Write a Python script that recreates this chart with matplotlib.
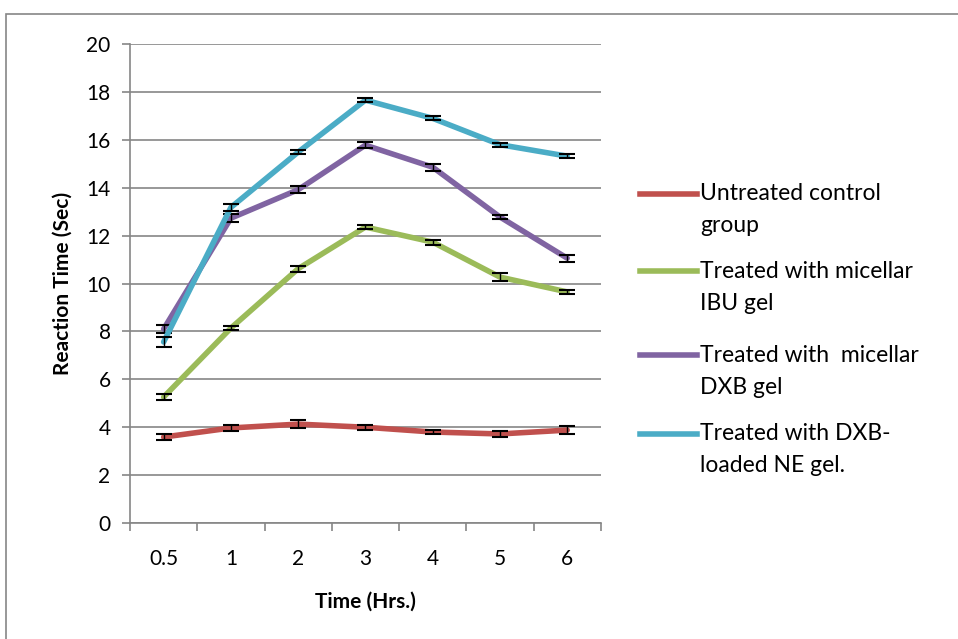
import matplotlib.pyplot as plt
from matplotlib.patches import Rectangle
from matplotlib.lines import Line2D

plt.rcParams['font.family'] = ['Lato', 'DejaVu Sans']

time_labels = ['0.5', '1', '2', '3', '4', '5', '6']

control = [3.59, 3.97, 4.13, 4.00, 3.80, 3.72, 3.88]
control_err = [0.12, 0.12, 0.18, 0.10, 0.08, 0.12, 0.18]

ibu_gel = [5.26, 8.14, 10.62, 12.36, 11.73, 10.27, 9.65]
ibu_err = [0.12, 0.10, 0.12, 0.10, 0.10, 0.15, 0.10]

dxb_gel = [8.10, 12.73, 13.92, 15.78, 14.86, 12.78, 11.06]
dxb_err = [0.18, 0.18, 0.15, 0.12, 0.15, 0.10, 0.15]

ne_gel = [7.56, 13.18, 15.49, 17.66, 16.90, 15.80, 15.32]
ne_err = [0.20, 0.15, 0.10, 0.08, 0.08, 0.08, 0.08]

series = [
    ('Untreated control\ngroup', control, control_err, '#C0504D'),
    ('Treated with micellar\nIBU gel', ibu_gel, ibu_err, '#9BBB59'),
    ('Treated with  micellar\nDXB gel', dxb_gel, dxb_err, '#8064A2'),
    ('Treated with DXB-\nloaded NE gel.', ne_gel, ne_err, '#4BACC6'),
]

W, H = 958, 639
fig = plt.figure(figsize=(W / 100, H / 100), dpi=100)
ax = fig.add_axes([0.1357, 0.1815, 0.4915, 0.7495])

# outer chart frame
fig.patches.append(Rectangle((0.006, -0.05), 1.2, 1.028, transform=fig.transFigure,
                             fill=False, edgecolor='#868686', linewidth=1.2))

x = list(range(len(time_labels)))
for label, vals, err, color in series:
    ax.plot(x, vals, color=color, linewidth=4, solid_capstyle='round')
    ax.errorbar(x, vals, yerr=err, fmt='none', ecolor='black', elinewidth=1.0,
                capsize=6, capthick=1.5)

ax.set_xlim(-0.5, len(time_labels) - 0.5)
ax.set_ylim(0, 20)
ax.set_yticks(range(0, 21, 2))
ax.set_xticks(x)
ax.set_xticklabels(time_labels)
ax.set_xticks([i - 0.5 for i in range(len(time_labels) + 1)], minor=True)
ax.tick_params(axis='x', which='major', length=0, pad=19, labelsize=15)
ax.tick_params(axis='x', which='minor', length=6, color='#868686', width=1.2)
ax.tick_params(axis='y', length=6, color='#868686', width=1.2, pad=8, labelsize=15)

ax.grid(axis='y', color='#868686', linewidth=1.2)
ax.set_axisbelow(True)
for side in ['top', 'right']:
    ax.spines[side].set_visible(False)
for side in ['left', 'bottom']:
    ax.spines[side].set_color('#868686')
    ax.spines[side].set_linewidth(1.2)

ax.set_xlabel('Time (Hrs.)', fontsize=15, fontweight='bold', labelpad=16)
ax.set_ylabel('Reaction Time (Sec)', fontsize=15, fontweight='bold', labelpad=10)

# legend: line key level with the first text line of each entry
legend_rows = [194, 271, 355, 434]
for (label, _, _, color), row in zip(series, legend_rows):
    y1 = 1 - row / H
    fig.add_artist(Line2D([640 / W, 697 / W], [y1, y1], color=color, linewidth=4,
                          transform=fig.transFigure))
    for k, line in enumerate(label.split('\n')):
        fig.text(700 / W, 1 - (row + 32 * k) / H, line, fontsize=16.5,
                 va='center', ha='left')

fig.savefig('out.png', dpi=100)
